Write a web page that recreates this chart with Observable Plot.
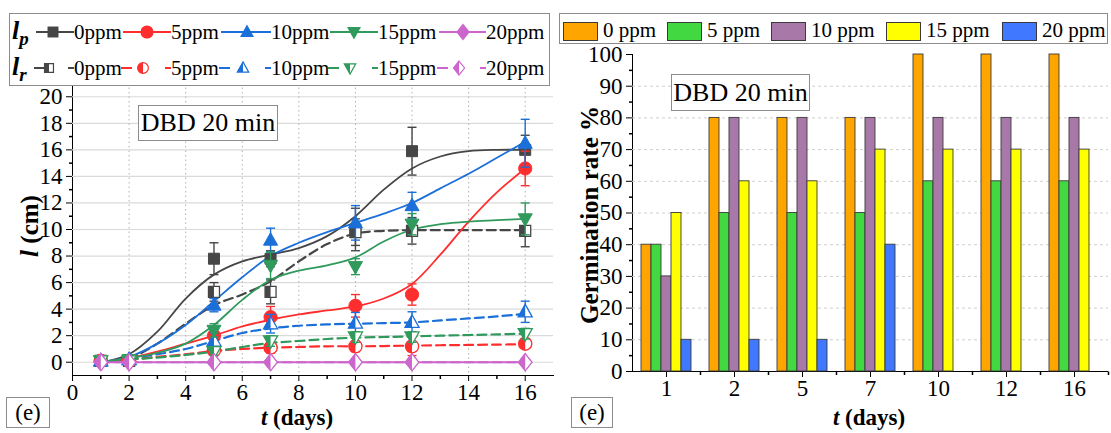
<!DOCTYPE html>
<html><head><meta charset="utf-8">
<script src="https://cdn.jsdelivr.net/npm/d3@7"></script>
<script src="https://cdn.jsdelivr.net/npm/@observablehq/plot@0.6"></script>
<style>
html,body{margin:0;padding:0;background:#fff;}
body{width:1111px;height:433px;overflow:hidden;position:relative;font-family:"Liberation Serif","Times New Roman",serif;color:#000;}
.abs{position:absolute;}
.box{position:absolute;border:1px solid #8c8c8c;background:#fff;box-sizing:border-box;display:flex;align-items:center;justify-content:center;white-space:nowrap;}
.title{position:absolute;font-weight:bold;white-space:nowrap;transform:translate(-50%,-50%);line-height:1;}
.rot{transform:translate(-50%,-50%) rotate(-90deg);}
</style></head><body>
<div id="left" class="abs" style="left:0;top:0"></div>
<div id="rightBg" class="abs" style="left:556px;top:0"></div>
<div id="right" class="abs" style="left:556px;top:0"></div>
<div id="legendL" class="abs" style="left:0;top:0"></div>
<div id="legendR" class="abs" style="left:0;top:0"></div>

<div class="box" style="left:138px;top:105px;width:140px;height:36px;font-size:26px;">DBD 20 min</div>
<div class="box" style="left:671px;top:74px;width:139px;height:37px;font-size:26px;">DBD 20 min</div>
<div class="box" style="left:6px;top:397px;width:44px;height:31px;font-size:23px;">(e)</div>
<div class="box" style="left:571px;top:397px;width:42px;height:31px;font-size:23px;">(e)</div>
<div class="title" style="left:297px;top:417px;font-size:23px;"><i>t</i> (days)</div>
<div class="title" style="left:869px;top:417px;font-size:23px;"><i>t</i> (days)</div>
<div class="title rot" style="left:29px;top:226px;font-size:25px;"><i>l</i> (cm)</div>
<div class="title rot" style="left:589px;top:215px;font-size:25px;">Germination rate %</div>

<script>
// ---------- data ----------
const days = [1, 2, 5, 7, 10, 12, 16];
const dayLabels = ["1", "2", "5", "7", "10", "12", "16"];
const concentrations = ["0ppm", "5ppm", "10ppm", "15ppm", "20ppm"];
const barLegendLabels = ["0 ppm", "5 ppm", "10 ppm", "15 ppm", "20 ppm"];

// plumule length l_p (cm) and error
const lp0 = [0.1, 0.1, 7.8, 7.8, 10.0, 15.9, 16.0];
const lp0Err = [0.1, 0.1, 1.2, 0.6, 1.6, 1.8, 1.1];
const lp5 = [0.1, 0.1, 2.0, 3.4, 4.25, 5.1, 14.6];
const lp5Err = [0.1, 0.1, 0.3, 0.8, 0.85, 0.8, 1.3];
const lp10 = [0.1, 0.2, 4.3, 9.2, 10.5, 11.8, 16.5];
const lp10Err = [0.1, 0.1, 0.5, 0.9, 1.3, 1.0, 1.8];
const lp15 = [0.1, 0.2, 2.4, 7.3, 7.2, 10.4, 10.8];
const lp15Err = [0.1, 0.1, 0.5, 1.0, 0.6, 0.8, 1.2];
const lp20 = [0, 0, 0, 0, 0, 0, 0];
const lp20Err = [0, 0, 0, 0, 0, 0, 0];

// radicle length l_r (cm) and error
const lr0 = [0.1, 0.1, 5.3, 5.3, 9.8, 9.9, 9.9];
const lr0Err = [0.1, 0.1, 0.7, 0.9, 1.0, 1.0, 1.2];
const lr5 = [0.1, 0.1, 0.9, 1.1, 1.2, 1.2, 1.4];
const lr5Err = [0.05, 0.05, 0.3, 0.4, 0.4, 0.7, 0.3];
const lr10 = [0.1, 0.2, 1.6, 2.9, 2.95, 3.0, 3.8];
const lr10Err = [0.1, 0.1, 0.6, 0.7, 0.8, 0.8, 0.8];
const lr15 = [0.1, 0.1, 0.8, 1.6, 1.9, 1.9, 2.15];
const lr15Err = [0.05, 0.05, 0.3, 0.4, 0.4, 0.4, 0.4];
const lr20 = [0, 0, 0, 0, 0, 0, 0];
const lr20Err = [0, 0, 0, 0, 0, 0, 0];

// fitted curves
const fitDays = [1, 2, 3, 4, 5, 6, 7, 8, 9, 10, 11, 12, 13, 14, 15, 16];
const fitLp0 = [0, 0.6, 2.3, 4.8, 6.6, 7.6, 8.1, 8.6, 9.5, 11.0, 13.0, 14.6, 15.5, 15.9, 16.0, 16.0];
const fitLp5 = [0, 0.3, 0.8, 1.4, 2.0, 2.7, 3.2, 3.6, 3.9, 4.2, 4.8, 5.9, 8.1, 10.6, 12.8, 14.6];
const fitLp10 = [0, 0.4, 1.4, 2.8, 4.6, 6.4, 8.0, 9.0, 9.8, 10.5, 11.2, 12.0, 13.1, 14.2, 15.4, 16.6];
const fitLp15 = [0, 0.3, 0.7, 1.4, 2.8, 4.7, 6.2, 6.9, 7.3, 7.9, 9.1, 10.0, 10.4, 10.6, 10.7, 10.8];
const fitLp20 = [0, 0, 0, 0, 0, 0, 0, 0, 0, 0, 0, 0, 0, 0, 0, 0];
const fitLr0 = [0, 0.3, 1.4, 2.9, 4.3, 5.1, 6.1, 7.6, 8.9, 9.7, 9.9, 9.95, 9.95, 9.95, 9.95, 9.95];
const fitLr5 = [0, 0.2, 0.4, 0.6, 0.85, 1.0, 1.1, 1.15, 1.2, 1.2, 1.22, 1.25, 1.28, 1.3, 1.33, 1.35];
const fitLr10 = [0, 0.3, 0.6, 1.0, 1.6, 2.2, 2.55, 2.75, 2.85, 2.9, 2.95, 3.0, 3.15, 3.3, 3.45, 3.65];
const fitLr15 = [0, 0.2, 0.35, 0.55, 0.8, 1.15, 1.45, 1.6, 1.75, 1.85, 1.9, 1.95, 2.0, 2.05, 2.1, 2.15];
const fitLr20 = [0, 0, 0, 0, 0, 0, 0, 0, 0, 0, 0, 0, 0, 0, 0, 0];

// germination rate %
const germ0 = [40, 80, 80, 80, 100, 100, 100];
const germ5 = [40, 50, 50, 50, 60, 60, 60];
const germ10 = [30, 80, 80, 80, 80, 80, 80];
const germ15 = [50, 60, 60, 70, 70, 70, 70];
const germ20 = [10, 10, 10, 40, 0, 0, 0];

// ticks
const xTicksLeft = [0, 2, 4, 6, 8, 10, 12, 14, 16];
const xMinorLeft = [1, 3, 5, 7, 9, 11, 13, 15];
const yTicksLeft = [0, 2, 4, 6, 8, 10, 12, 14, 16, 18, 20];
const yMinorLeft = [1, 3, 5, 7, 9, 11, 13, 15, 17, 19];
const yTicksRight = [0, 10, 20, 30, 40, 50, 60, 70, 80, 90, 100];
const yMinorRight = [5, 15, 25, 35, 45, 55, 65, 75, 85, 95];
const groupBoundaries = ["b0", "b1", "b2", "b3", "b4", "b5", "b6", "b7"];

// ---------- styles ----------
const lineColors = ["#464646", "#ff2e2e", "#1b6fd8", "#2f9a5c", "#cc66cc"];
const barColors = ["#ffa500", "#42d842", "#a878a8", "#ffff00", "#4079ff"];
const FONT = "'Liberation Serif','Times New Roman',serif";

function shape(pts) {
  return {draw(ctx, size) {
    const s = Math.sqrt(size);
    pts.forEach(([x, y], i) => i ? ctx.lineTo(x * s, y * s) : ctx.moveTo(x * s, y * s));
    ctx.closePath();
  }};
}
const symSquare = shape([[-.5,-.5],[.5,-.5],[.5,.5],[-.5,.5]]);
const symSquareL = shape([[-.5,-.5],[0,-.5],[0,.5],[-.5,.5]]);
const symCircle = {draw(ctx, size) { const r = 0.6 * Math.sqrt(size); ctx.moveTo(r, 0); ctx.arc(0, 0, r, 0, 2 * Math.PI); }};
const symCircleL = {draw(ctx, size) { const r = 0.6 * Math.sqrt(size); ctx.moveTo(0, r); ctx.arc(0, 0, r, Math.PI / 2, 3 * Math.PI / 2); ctx.closePath(); }};
const symTriUp = shape([[0,-.68],[.64,.46],[-.64,.46]]);
const symTriUpL = shape([[0,-.68],[0,.46],[-.64,.46]]);
const symTriDown = shape([[0,.68],[.64,-.46],[-.64,-.46]]);
const symTriDownL = shape([[0,.68],[0,-.46],[-.64,-.46]]);
const symDiamond = shape([[0,-.78],[.62,0],[0,.78],[-.62,0]]);
const symDiamondL = shape([[0,-.78],[0,.78],[-.62,0]]);
const fullSyms = [symSquare, symCircle, symTriUp, symTriDown, symDiamond];
const halfSyms = [symSquareL, symCircleL, symTriUpL, symTriDownL, symDiamondL];
const capSym = {draw(ctx) { ctx.moveTo(-4.5, 0); ctx.lineTo(4.5, 0); }};
const tickLeftSym = {draw(ctx) { ctx.moveTo(0, 0); ctx.lineTo(-3.5, 0); }};
const tickDownSym = {draw(ctx) { ctx.moveTo(0, 0); ctx.lineTo(0, 3.5); }};

const lpSeries = [lp0, lp5, lp10, lp15, lp20];
const lpErrs = [lp0Err, lp5Err, lp10Err, lp15Err, lp20Err];
const lrSeries = [lr0, lr5, lr10, lr15, lr20];
const lrErrs = [lr0Err, lr5Err, lr10Err, lr15Err, lr20Err];
const fitLp = [fitLp0, fitLp5, fitLp10, fitLp15, fitLp20];
const fitLr = [fitLr0, fitLr5, fitLr10, fitLr15, fitLr20];

const rowsOf = (vals, errs) => days.map((t, i) => ({t, v: vals[i], e: errs[i]}));
const fitOf = (vals) => fitDays.map((t, i) => ({t, v: vals[i]}));

// ---------- left chart ----------
const marksL = [
  Plot.ruleY(yTicksLeft, {stroke: "#dadada", strokeWidth: 1.2}),
  Plot.ruleX(xTicksLeft.filter(d => d > 0), {stroke: "#b0b0b0", strokeWidth: 1, strokeDasharray: "1.5,3"}),
  Plot.dot(yMinorLeft, {y: d => d, frameAnchor: "left", symbol: tickLeftSym, stroke: "black", fill: "none"}),
  Plot.dot(xMinorLeft, {x: d => d, frameAnchor: "bottom", symbol: tickDownSym, stroke: "black", fill: "none"})
];
concentrations.forEach((c, i) => {
  marksL.push(Plot.line(fitOf(fitLr[i]), {x: "t", y: "v", stroke: lineColors[i], strokeWidth: 2.2, strokeDasharray: "9,5", curve: "catmull-rom"}));
});
concentrations.forEach((c, i) => {
  marksL.push(Plot.line(fitOf(fitLp[i]), {x: "t", y: "v", stroke: lineColors[i], strokeWidth: 1.8, curve: "catmull-rom"}));
});
concentrations.forEach((c, i) => {
  const col = lineColors[i];
  const lr = rowsOf(lrSeries[i], lrErrs[i]);
  const lp = rowsOf(lpSeries[i], lpErrs[i]);
  for (const rows of [lp, lr]) {
    const withErr = rows.filter(d => d.e > 0.15);
    marksL.push(
      Plot.ruleX(withErr, {x: "t", y1: d => d.v - d.e, y2: d => d.v + d.e, stroke: col, strokeWidth: 1.4}),
      Plot.dot(withErr, {x: "t", y: d => d.v + d.e, symbol: capSym, stroke: col, strokeWidth: 1.4, fill: "none"}),
      Plot.dot(withErr, {x: "t", y: d => d.v - d.e, symbol: capSym, stroke: col, strokeWidth: 1.4, fill: "none"})
    );
  }
  marksL.push(
    Plot.dot(lp, {x: "t", y: "v", r: 6.2, symbol: fullSyms[i], fill: col, stroke: col, strokeWidth: 1}),
    Plot.dot(lr, {x: "t", y: "v", r: 6.2, symbol: fullSyms[i], fill: "white", stroke: col, strokeWidth: 1.3}),
    Plot.dot(lr, {x: "t", y: "v", r: 6.2, symbol: halfSyms[i], fill: col, stroke: "none"})
  );
});

const left = Plot.plot({
  width: 556, height: 433,
  marginTop: 83, marginBottom: 58, marginLeft: 72, marginRight: 3,
  x: {domain: [0, 17], ticks: xTicksLeft, tickSize: 6, tickPadding: 2, line: true, label: null},
  y: {domain: [-1, 21], ticks: yTicksLeft, tickSize: 6, tickPadding: 4, line: true, label: null},
  style: {fontFamily: FONT, fontSize: "23px", color: "black", background: "transparent", overflow: "visible"},
  marks: marksL
});
document.getElementById("left").append(left);

// ---------- right chart ----------
const barRows = [];
const germSeries = [germ0, germ5, germ10, germ15, germ20];
dayLabels.forEach((d, j) => concentrations.forEach((c, i) => {
  const v = germSeries[i][j];
  if (v > 0) barRows.push({day: d, c, v});
}));

const rightBg = Plot.plot({
  width: 555, height: 433,
  marginTop: 54, marginBottom: 62, marginLeft: 76, marginRight: 3,
  x: {type: "point", domain: groupBoundaries, padding: 0, axis: null},
  y: {domain: [0, 100], ticks: yTicksRight, tickSize: 6, tickPadding: 4, line: true, label: null},
  style: {fontFamily: FONT, fontSize: "23px", color: "black", background: "transparent", overflow: "visible"},
  marks: [
    Plot.ruleY(yTicksRight.filter(d => d > 0 && d < 100), {stroke: "#cfcfcf", strokeWidth: 1, strokeDasharray: "3,3"}),
    Plot.dot(yMinorRight, {y: d => d, frameAnchor: "left", symbol: tickLeftSym, stroke: "black", fill: "none"}),
    Plot.dot(groupBoundaries.slice(1), {x: d => d, frameAnchor: "bottom", symbol: tickDownSym, stroke: "black", fill: "none"}),
    Plot.ruleY([0], {stroke: "black", strokeWidth: 1})
  ]
});
document.getElementById("rightBg").append(rightBg);

const right = Plot.plot({
  width: 555, height: 433,
  marginTop: 54, marginBottom: 62, marginLeft: 76, marginRight: 3,
  facet: {data: barRows, x: "day"},
  fx: {domain: dayLabels, paddingInner: 0.2, paddingOuter: 0.1, axis: "bottom", label: null, tickSize: 6, tickPadding: 2},
  x: {domain: concentrations, padding: 0, axis: null},
  y: {domain: [0, 100], axis: null},
  color: {domain: concentrations, range: barColors},
  style: {fontFamily: FONT, fontSize: "23px", color: "black", background: "transparent", overflow: "visible"},
  marks: [
    Plot.barY(barRows, {x: "c", y: "v", fill: "c", stroke: "#3a3a3a", strokeWidth: 0.9})
  ]
});
document.getElementById("right").append(right);

// ---------- left legend ----------
const legL = d3.select("#legendL").append("svg").attr("width", 560).attr("height", 92)
  .style("font-family", FONT);
legL.append("rect").attr("x", 9.5).attr("y", 13.5).attr("width", 540).attr("height", 72)
  .attr("fill", "white").attr("stroke", "#8c8c8c");
const lpText = legL.append("text").attr("x", 12).attr("y", 39).attr("font-size", 26).attr("font-weight", "bold").attr("font-style", "italic");
lpText.append("tspan").text("l");
lpText.append("tspan").attr("dy", 6).attr("font-size", 19).text("p");
const lrText = legL.append("text").attr("x", 12).attr("y", 75).attr("font-size", 26).attr("font-weight", "bold").attr("font-style", "italic");
lrText.append("tspan").text("l");
lrText.append("tspan").attr("dy", 6).attr("font-size", 19).text("r");
const legItems = [
  {ls: 36, le: 74, m: 53, tx: 74},
  {ls: 123, le: 171, m: 147, tx: 171},
  {ls: 221, le: 271, m: 247, tx: 271},
  {ls: 330, le: 378, m: 354, tx: 378},
  {ls: 439, le: 486, m: 463, tx: 486}
];
concentrations.forEach((c, i) => {
  const it = legItems[i], col = lineColors[i];
  legL.append("line").attr("x1", it.ls).attr("x2", it.le).attr("y1", 32).attr("y2", 32).attr("stroke", col).attr("stroke-width", 2);
  legL.append("path").attr("d", d3.symbol(fullSyms[i], 120)()).attr("transform", `translate(${it.m},32)`).attr("fill", col);
  legL.append("text").attr("x", it.tx).attr("y", 39).attr("font-size", 21).text(c);
  // row 2
  legL.append("line").attr("x1", it.ls - 2).attr("x2", it.ls + 9).attr("y1", 68).attr("y2", 68).attr("stroke", col).attr("stroke-width", 2);
  legL.append("line").attr("x1", it.tx - 6).attr("x2", it.tx).attr("y1", 68).attr("y2", 68).attr("stroke", col).attr("stroke-width", 2);
  legL.append("path").attr("d", d3.symbol(fullSyms[i], 80)()).attr("transform", `translate(${it.m - 4},68)`).attr("fill", "white").attr("stroke", col).attr("stroke-width", 1.2);
  legL.append("path").attr("d", d3.symbol(halfSyms[i], 80)()).attr("transform", `translate(${it.m - 4},68)`).attr("fill", col);
  legL.append("text").attr("x", it.tx).attr("y", 75).attr("font-size", 21).text(c);
});

// ---------- right legend ----------
const legR = d3.select("#legendR").append("svg").attr("width", 1111).attr("height", 50)
  .style("font-family", FONT);
legR.append("rect").attr("x", 559.5).attr("y", 13.5).attr("width", 548).attr("height", 30)
  .attr("fill", "white").attr("stroke", "#8c8c8c");
const swX = [563, 667, 771, 886, 1002];
barLegendLabels.forEach((lab, i) => {
  legR.append("rect").attr("x", swX[i] + 0.5).attr("y", 22.5).attr("width", 34).attr("height", 18)
    .attr("fill", barColors[i]).attr("stroke", "#3a3a3a").attr("stroke-width", 1);
  legR.append("text").attr("x", swX[i] + 40).attr("y", 37).attr("font-size", 21).text(lab);
});
</script>
</body></html>
